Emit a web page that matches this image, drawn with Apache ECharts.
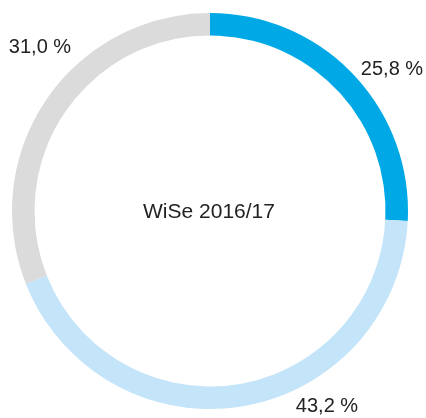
<!DOCTYPE html>
<html><head><meta charset="utf-8">
<script src="https://cdn.jsdelivr.net/npm/echarts@6/dist/echarts.min.js"></script>
<style>html,body{margin:0;padding:0;background:#fff}#c{width:426px;height:418px}</style>
</head><body><div id="c"></div>
<script>
const categories = ['A', 'B', 'C'];
const values = [25.8, 43.2, 31.0];
const labels = ['25,8 %', '43,2 %', '31,0 %'];
const centerTitle = 'WiSe 2016/17';

const colors = ['#00A9E6', '#C4E4F9', '#DBDBDB'];
const labelPos = [[392, 69], [327, 406], [40, 47]];

const chart = echarts.init(document.getElementById('c'));
chart.setOption({
  animation: false,
  graphic: [{
    type: 'text', x: 209, y: 212, silent: true,
    style: { text: centerTitle, align: 'center', verticalAlign: 'middle',
      font: 'normal 21px "Liberation Sans"', fill: '#222' }
  }],
  series: [{
    type: 'pie',
    center: [210, 211],
    radius: [175.5, 198],
    startAngle: 90,
    clockwise: true,
    silent: true,
    avoidLabelOverlap: false,
    data: categories.map((c, i) => ({ name: c, value: values[i], itemStyle: { color: colors[i] } })),
    label: {
      show: true, position: 'outside', overflow: 'none', width: 100,
      formatter: p => labels[p.dataIndex],
      fontFamily: 'Liberation Sans', fontSize: 20, color: '#222'
    },
    labelLine: { show: false },
    labelLayout: p => ({ x: labelPos[p.dataIndex][0], y: labelPos[p.dataIndex][1], align: 'center', verticalAlign: 'middle', hideOverlap: false })
  }]
});
</script></body></html>
